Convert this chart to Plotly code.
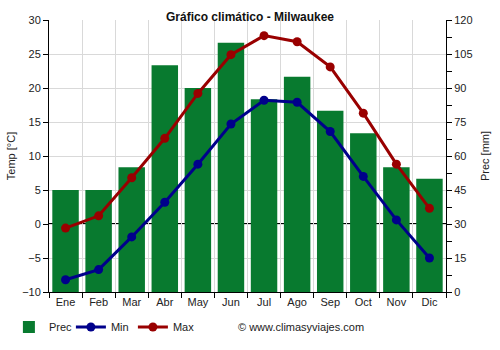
import plotly.graph_objects as go

months = ["Ene", "Feb", "Mar", "Abr", "May", "Jun", "Jul", "Ago", "Sep", "Oct", "Nov", "Dic"]
prec = [45, 45, 55, 100, 90, 110, 85, 95, 80, 70, 55, 50]
tmin = [-8.2, -6.7, -1.9, 3.2, 8.8, 14.7, 18.2, 17.9, 13.6, 7.0, 0.6, -5.0]
tmax = [-0.6, 1.2, 6.8, 12.6, 19.2, 24.9, 27.7, 26.8, 23.1, 16.3, 8.8, 2.3]

FONT = "Liberation Sans, Arial, sans-serif"
TXT = "#222"
PLOT_H = 350 - 20 - 58

fig = go.Figure()
# precipitation on primary axis (drawn first, below); temperatures on overlaying axis (on top)
fig.add_trace(go.Bar(x=months, y=prec, name="Prec", marker_color="#087a2f",
                     marker_line_width=0, width=0.8, yaxis="y"))
fig.add_trace(go.Scatter(x=months, y=tmin, name="Min", mode="lines+markers", yaxis="y2",
                         line=dict(color="#00008b", width=3), marker=dict(size=9, color="#00008b")))
fig.add_trace(go.Scatter(x=months, y=tmax, name="Max", mode="lines+markers", yaxis="y2",
                         line=dict(color="#990000", width=3), marker=dict(size=9, color="#990000")))

fig.update_layout(
    width=500, height=350,
    margin=dict(l=49, r=54, t=20, b=58, autoexpand=False),
    paper_bgcolor="white", plot_bgcolor="white",
    font=dict(family=FONT, size=11, color=TXT),
    title=dict(text="<b>Gráfico climático - Milwaukee</b>", x=0.5, xanchor="center",
               y=1 - 17 / 350, yanchor="middle", font=dict(size=12, color="#111")),
    showlegend=True,
    legend=dict(orientation="h", x=-0.101, xanchor="left", y=(292 - 327) / PLOT_H,
                yanchor="middle",
                font=dict(size=11, color=TXT), traceorder="normal", itemwidth=30,
                entrywidth=17),
    xaxis=dict(showline=True, linecolor="black", linewidth=1, ticks="outside",
               tickson="boundaries", ticklen=5, tickcolor="black",
               showgrid=True, gridcolor="#d9d9d9", gridwidth=1,
               tickfont=dict(size=11, color=TXT), range=[-0.5, 11.5]),
    yaxis=dict(range=[0, 120], dtick=15, side="right", showline=True,
               linecolor="black", linewidth=1, ticks="outside", ticklen=5, tickcolor="black",
               showgrid=True, gridcolor="#d9d9d9", zeroline=False,
               minor=dict(dtick=7.5, ticks="outside", ticklen=5, tickcolor="black", showgrid=False),
               title=dict(text="Prec [mm]", font=dict(size=11), standoff=9),
               tickfont=dict(size=11, color=TXT)),
    yaxis2=dict(range=[-10, 30], dtick=5, overlaying="y", side="left", showline=True,
                linecolor="black", linewidth=1, ticks="outside", ticklen=5, tickcolor="black",
                showgrid=False, zeroline=False,
                title=dict(text="Temp [°C]", font=dict(size=11), standoff=4),
                tickfont=dict(size=11, color=TXT)),
)

# 0 °C reference line (= 30 mm on the precipitation scale), drawn beneath the bars
fig.add_shape(type="line", xref="paper", x0=0, x1=1, yref="y", y0=30, y1=30,
              line=dict(color="black", width=2), layer="below")

fig.add_annotation(text="© www.climasyviajes.com", xref="paper", yref="paper",
                   x=(236 - 49) / 397, xanchor="left", y=(292 - 327) / PLOT_H,
                   yanchor="middle", showarrow=False,
                   font=dict(size=11, color=TXT))

fig.write_html("out.html")
